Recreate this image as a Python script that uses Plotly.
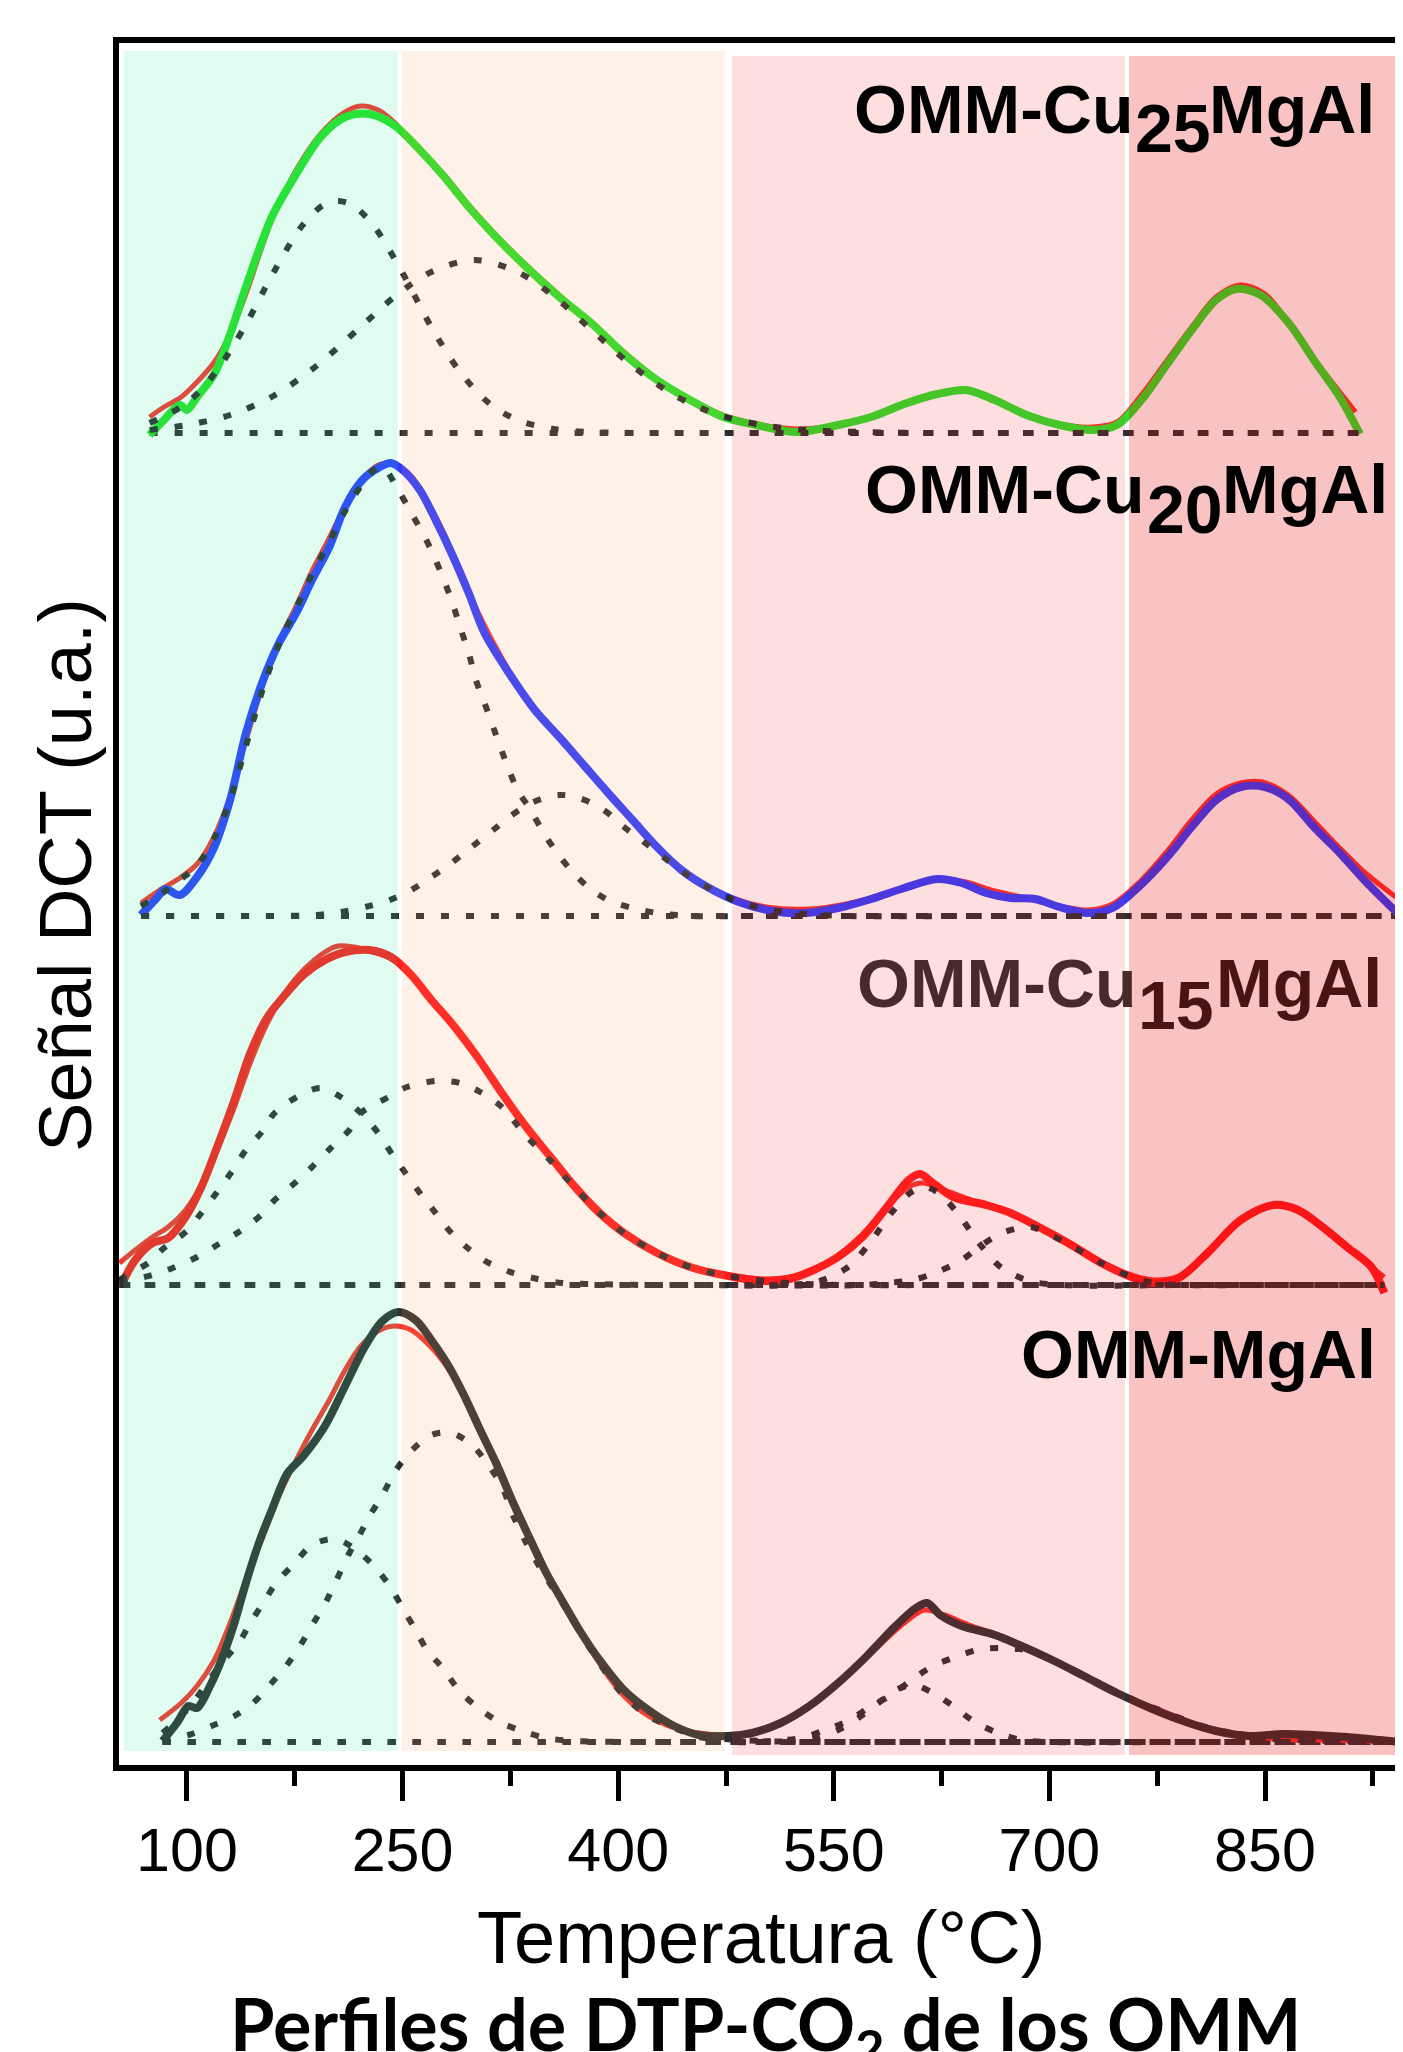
import plotly.graph_objects as go

# ---------------- data (temperature in °C, signal in a.u. above each profile baseline) -------------
# OMM-Cu25MgAl
T_CU25 = [74, 84, 95, 100, 107, 119, 130, 141, 159, 176, 193, 210, 227, 244, 262, 279, 296, 313, 336, 359, 382, 404, 427, 450, 473, 496, 524, 553, 576, 599, 622, 642, 662, 684, 707, 730, 747, 764, 782, 799, 816, 830, 847, 867, 884, 902, 916]
I_CU25 = [-2, 13, 28, 23, 36, 59, 99, 146, 216, 259, 296, 316, 319, 308, 283, 256, 226, 199, 166, 136, 109, 79, 53, 33, 16, 8, 1, 8, 16, 29, 39, 43, 33, 18, 8, 3, 8, 33, 69, 103, 133, 144, 138, 109, 73, 36, -1]
TF_CU25 = [74, 84, 96, 107, 119, 130, 141, 159, 176, 193, 210, 221, 233, 244, 261, 279, 296, 313, 336, 359, 382, 404, 427, 450, 473, 496, 524, 553, 576, 599, 622, 641, 662, 684, 707, 730, 747, 764, 782, 799, 816, 833, 850, 867, 884, 902, 913]
IF_CU25 = [16, 26, 36, 51, 71, 99, 139, 213, 263, 299, 321, 327, 323, 311, 284, 258, 228, 201, 168, 138, 109, 81, 54, 34, 18, 9, 4, 8, 16, 29, 39, 44, 34, 19, 9, 6, 11, 38, 73, 106, 136, 148, 139, 109, 74, 41, 21]
TC1_CU25 = [74, 100, 120, 140, 160, 180, 195, 205, 215, 230, 250, 270, 290, 310, 330, 355, 380, 420, 500, 600, 700, 800, 916]
IC1_CU25 = [10, 30, 61, 106, 160, 207, 228, 232, 228, 207, 160, 106, 61, 30, 13, 4, 1, 0, 0, 0, 0, 0, 0]
TC2_CU25 = [74, 100, 130, 160, 190, 220, 245, 270, 300, 330, 355, 380, 410, 440, 470, 500, 530, 570, 620, 700, 800, 916]
IC2_CU25 = [3, 8, 18, 37, 67, 105, 137, 161, 173, 161, 137, 105, 67, 37, 18, 8, 3, 1, 0, 0, 0, 0]

# OMM-Cu20MgAl
T_CU20 = [68, 79, 85, 95, 107, 119, 130, 141, 153, 164, 176, 187, 199, 210, 222, 233, 242, 250, 262, 273, 284, 296, 307, 324, 342, 359, 376, 393, 410, 427, 444, 462, 484, 507, 530, 553, 576, 599, 622, 639, 656, 673, 690, 707, 727, 744, 762, 782, 799, 816, 833, 850, 867, 884, 902, 919, 942]
I_CU20 = [1, 18, 27, 21, 39, 69, 116, 183, 236, 273, 303, 336, 369, 409, 436, 448, 453, 446, 426, 396, 363, 323, 283, 243, 206, 179, 151, 123, 96, 69, 46, 29, 14, 5, 3, 8, 17, 28, 37, 33, 23, 18, 17, 9, 3, 8, 29, 59, 89, 116, 129, 129, 116, 89, 63, 36, 3]
TF_CU20 = [68, 80, 95, 107, 119, 130, 141, 153, 164, 176, 187, 199, 210, 222, 233, 244, 256, 267, 279, 290, 302, 319, 336, 353, 370, 388, 405, 422, 439, 456, 473, 496, 519, 542, 565, 588, 611, 625, 642, 662, 684, 707, 727, 744, 762, 782, 799, 816, 833, 848, 867, 884, 902, 919, 941]
IF_CU20 = [13, 25, 38, 52, 80, 120, 175, 232, 275, 310, 345, 378, 410, 437, 451, 452, 440, 415, 382, 345, 305, 258, 218, 187, 160, 132, 104, 77, 53, 35, 22, 11, 7, 8, 14, 23, 33, 37, 34, 25, 18, 10, 6, 12, 33, 65, 96, 122, 133, 134, 120, 95, 68, 44, 19]
TC1_CU20 = [68, 80, 95, 107, 119, 130, 141, 153, 164, 176, 187, 199, 210, 222, 230, 236, 247, 256, 264, 273, 284, 290, 296, 301, 307, 313, 318, 324, 330, 339, 347, 356, 367, 379, 393, 410, 427, 450, 500, 600, 700, 800, 942]
IC1_CU20 = [10, 20, 36, 50, 78, 116, 170, 228, 272, 308, 342, 374, 405, 432, 446, 449, 426, 403, 383, 356, 316, 289, 263, 236, 213, 189, 169, 146, 126, 106, 86, 66, 46, 29, 16, 8, 3, 0, 0, 0, 0, 0, 0]
TC2_CU20 = [68, 150, 190, 207, 224, 241, 256, 270, 284, 298, 313, 324, 341, 359, 373, 390, 404, 416, 427, 444, 462, 484, 507, 530, 560, 650, 750, 850, 942]
IC2_CU20 = [0, 0, 1, 4, 9, 16, 26, 39, 53, 69, 86, 99, 114, 121, 118, 106, 89, 76, 64, 45, 29, 14, 6, 2, 0, 0, 0, 0, 0]

# OMM-Cu15MgAl
T_CU15 = [55, 64, 76, 87, 99, 110, 121, 133, 144, 156, 167, 181, 196, 210, 227, 242, 256, 270, 284, 302, 319, 336, 353, 370, 387, 404, 427, 450, 473, 502, 519, 536, 553, 570, 587, 602, 610, 619, 633, 656, 673, 690, 713, 736, 759, 773, 790, 810, 833, 856, 873, 890, 907, 924, 933]
I_CU15 = [2, 25, 42, 47, 68, 98, 138, 185, 232, 268, 288, 310, 325, 333, 335, 328, 310, 285, 262, 228, 192, 158, 128, 98, 72, 52, 32, 18, 10, 4, 6, 15, 28, 48, 78, 105, 111, 102, 88, 80, 72, 60, 42, 22, 7, 2, 7, 32, 65, 80, 75, 58, 38, 18, -8]
TF_CU15 = [53, 64, 76, 87, 99, 110, 121, 133, 144, 156, 167, 181, 196, 205, 216, 227, 242, 256, 270, 284, 302, 319, 336, 353, 370, 387, 404, 427, 450, 473, 502, 519, 536, 553, 570, 587, 602, 612, 625, 640, 656, 673, 690, 713, 736, 759, 773, 790, 810, 833, 856, 873, 890, 907, 924, 933]
IF_CU15 = [22, 35, 48, 58, 75, 100, 135, 178, 222, 262, 290, 315, 333, 339, 338, 334, 326, 310, 287, 262, 228, 193, 160, 128, 99, 74, 53, 33, 19, 11, 6, 8, 16, 30, 51, 78, 98, 102, 96, 88, 80, 72, 60, 42, 23, 9, 5, 9, 32, 63, 79, 74, 57, 37, 18, 8]
TC1_CU15 = [53, 61, 73, 84, 99, 110, 121, 131, 141, 152, 161, 179, 193, 207, 221, 233, 243, 253, 263, 273, 284, 297, 310, 327, 344, 361, 381, 420, 500, 600, 700, 800, 933]
IC1_CU15 = [5, 12, 22, 37, 53, 72, 93, 113, 135, 153, 172, 190, 197, 188, 172, 152, 130, 110, 90, 72, 52, 35, 22, 12, 6, 2, 1, 0, 0, 0, 0, 0, 0]
TC2_CU15 = [53, 61, 76, 90, 107, 121, 136, 150, 161, 175, 187, 200, 213, 221, 239, 253, 273, 290, 304, 319, 336, 353, 370, 387, 404, 427, 450, 473, 502, 530, 560, 650, 750, 850, 933]
IC2_CU15 = [3, 5, 10, 17, 28, 40, 53, 68, 85, 102, 118, 137, 155, 172, 187, 198, 204, 202, 193, 178, 149, 124, 97, 72, 52, 32, 18, 10, 4, 1, 0, 0, 0, 0, 0]
TC3_CU15 = [53, 450, 520, 540, 560, 575, 590, 603, 613, 623, 636, 651, 666, 686, 710, 800, 933]
IC3_CU15 = [0, 0, 0, 4, 18, 42, 72, 92, 98, 92, 72, 42, 18, 4, 0, 0, 0]
TC4_CU15 = [53, 450, 570, 587, 605, 622, 639, 653, 667, 684, 690, 713, 736, 759, 773, 790, 850, 933]
IC4_CU15 = [0, 0, 0, 2, 5, 13, 25, 40, 52, 58, 57, 41, 22, 7, 2, 0, 0, 0]

# OMM-MgAl
T_MGAL = [83, 93, 101, 107, 116, 124, 133, 141, 150, 159, 170, 181, 196, 210, 224, 236, 247, 259, 270, 282, 293, 304, 316, 327, 339, 350, 362, 373, 387, 404, 422, 439, 456, 476, 493, 513, 533, 553, 573, 593, 607, 615, 624, 639, 662, 679, 702, 724, 747, 770, 793, 816, 839, 862, 884, 907, 930, 944]
I_MGAL = [1, 19, 36, 34, 56, 82, 119, 159, 199, 232, 269, 286, 316, 356, 396, 421, 430, 422, 402, 376, 346, 312, 276, 239, 202, 169, 139, 112, 82, 52, 31, 16, 7, 6, 9, 19, 36, 59, 86, 116, 134, 139, 127, 116, 107, 97, 82, 66, 49, 34, 21, 11, 6, 8, 7, 5, 2, 0]
TF_MGAL = [81, 96, 107, 119, 130, 141, 153, 164, 176, 187, 199, 210, 221, 233, 244, 256, 267, 279, 290, 301, 313, 324, 336, 347, 359, 370, 381, 393, 404, 421, 439, 456, 473, 490, 507, 530, 553, 576, 599, 613, 627, 644, 667, 690, 713, 736, 759, 782, 804, 827, 850, 873, 896, 919, 944]
IF_MGAL = [22, 39, 56, 82, 119, 162, 206, 246, 282, 312, 342, 372, 396, 411, 416, 412, 399, 379, 352, 319, 282, 246, 209, 176, 146, 119, 92, 66, 46, 26, 14, 9, 7, 9, 16, 32, 59, 89, 119, 132, 127, 117, 106, 91, 74, 57, 42, 29, 17, 9, 4, 2, 2, 1, 0]
TC1_MGAL = [83, 93, 104, 114, 124, 136, 144, 153, 162, 175, 187, 203, 216, 230, 241, 250, 259, 267, 279, 289, 301, 316, 333, 350, 370, 420, 500, 600, 700, 800, 944]
IC1_MGAL = [9, 22, 39, 59, 79, 99, 119, 139, 159, 179, 197, 203, 194, 176, 156, 134, 112, 92, 72, 52, 36, 21, 11, 4, 1, 0, 0, 0, 0, 0, 0]
TC2_MGAL = [83, 101, 117, 133, 146, 157, 169, 179, 188, 197, 204, 213, 219, 227, 236, 245, 256, 270, 284, 299, 310, 319, 327, 336, 347, 359, 370, 381, 393, 404, 421, 439, 456, 473, 500, 530, 600, 700, 800, 944]
IC2_MGAL = [2, 7, 16, 26, 39, 56, 76, 97, 119, 141, 162, 189, 204, 226, 247, 271, 291, 307, 309, 296, 276, 256, 226, 199, 171, 144, 118, 92, 66, 46, 26, 14, 5, 3, 1, 0, 0, 0, 0, 0]
TC3_MGAL = [83, 450, 500, 519, 536, 553, 567, 581, 593, 605, 619, 633, 647, 664, 681, 701, 800, 944]
IC3_MGAL = [0, 0, 0, 1, 4, 12, 24, 39, 52, 57, 49, 36, 21, 9, 2, 0, 0, 0]
TC4_MGAL = [83, 450, 490, 507, 527, 544, 561, 576, 590, 604, 619, 633, 650, 667, 690, 713, 736, 759, 782, 804, 827, 850, 873, 896, 920, 944]
IC4_MGAL = [0, 0, 0, 1, 4, 12, 22, 36, 47, 62, 76, 84, 92, 94, 90, 74, 57, 42, 29, 17, 9, 4, 2, 1, 0, 0]

# Temperature zones (°C)
ZONES_T = [(56, 246.5), (249.6, 474.3), (479.2, 752.6), (755.4, 944)]

TICK_VALS = [100, 250, 400, 550, 700, 850]
TICK_TEXT = ["100", "250", "400", "550", "700", "850"]

# ---------------- styling / layout ----------------
OFFSET = {"cu25": 1332, "cu20": 849, "cu15": 480, "mgal": 23}
MEAS_COLOR = {"cu25": "rgb(40,225,40)", "cu20": "rgb(45,60,255)",
              "cu15": "rgb(255,28,28)", "mgal": "rgb(48,48,48)"}
FIT_COLOR = "rgb(250,50,45)"
DOT_COLOR = "rgb(45,45,48)"
ZONE_FILL = ["rgba(48,235,155,0.15)", "rgba(242,160,100,0.15)",
             "rgba(242,42,42,0.15)", "rgba(234,5,5,0.24)"]
ZONE_Y = [(14, 1714), (14, 1714), (10, 1709), (10, 1709)]

panels = [
    ("cu25", (T_CU25, I_CU25), (TF_CU25, IF_CU25),
     [(TC1_CU25, IC1_CU25), (TC2_CU25, IC2_CU25)]),
    ("cu20", (T_CU20, I_CU20), (TF_CU20, IF_CU20),
     [(TC1_CU20, IC1_CU20), (TC2_CU20, IC2_CU20)]),
    ("cu15", (T_CU15, I_CU15), (TF_CU15, IF_CU15),
     [(TC1_CU15, IC1_CU15), (TC2_CU15, IC2_CU15), (TC3_CU15, IC3_CU15), (TC4_CU15, IC4_CU15)]),
    ("mgal", (T_MGAL, I_MGAL), (TF_MGAL, IF_MGAL),
     [(TC1_MGAL, IC1_MGAL), (TC2_MGAL, IC2_MGAL), (TC3_MGAL, IC3_MGAL), (TC4_MGAL, IC4_MGAL)]),
]

fig = go.Figure()
DOT = "8px,17px"
for key, meas, fit, comps in panels:
    off = OFFSET[key]
    t0, t1 = meas[0][0], meas[0][-1]
    # baseline
    fig.add_trace(go.Scatter(x=[t0, t1], y=[off, off], mode="lines",
                             line=dict(color=DOT_COLOR, width=6, dash=DOT), hoverinfo="skip"))
    # fit
    fig.add_trace(go.Scatter(x=fit[0], y=[v + off for v in fit[1]], mode="lines",
                             line=dict(color=FIT_COLOR, width=5, shape="spline", smoothing=0.9)))
    # measured
    fig.add_trace(go.Scatter(x=meas[0], y=[v + off for v in meas[1]], mode="lines",
                             line=dict(color=MEAS_COLOR[key], width=8, shape="spline", smoothing=0.9)))
    # deconvolution components
    for tc, ic in comps:
        fig.add_trace(go.Scatter(x=tc, y=[v + off for v in ic], mode="lines",
                                 line=dict(color=DOT_COLOR, width=6, dash=DOT,
                                           shape="spline", smoothing=0.9)))

for (x0, x1), fill, (y0, y1) in zip(ZONES_T, ZONE_FILL, ZONE_Y):
    fig.add_shape(type="rect", xref="x", yref="y", x0=x0, x1=x1, y0=y0, y1=y1,
                  fillcolor=fill, line=dict(width=0), layer="above")

# the page body keeps the browser's default 8px margin: the figure starts at (8, 8)
PAGE_OFF = 8
W, H = 1403 - PAGE_OFF, 2052 - PAGE_OFF
ML, MT, MB = 119 - PAGE_OFF, 43 - PAGE_OFF, 287
PW, PH = W - ML, H - MT - MB


def px_x(px):
    return (px - PAGE_OFF - ML) / PW


def px_y(py):
    return (H - MB - (py - PAGE_OFF)) / PH


LBL_FONT = "Liberation Sans, Arial, sans-serif"
labels = [
    ("OMM-Cu", 852, 109, "black"), ("25", 1133, 128.5, "black"), ("MgAl", 1207, 109, "black"),
    ("OMM-Cu", 863, 489, "black"), ("20", 1144.5, 509, "black"), ("MgAl", 1219.6, 489, "black"),
    ("OMM-Cu", 855, 982.5, "#482a2a"), ("15", 1136, 1004.5, "#4a1414"), ("MgAl", 1214, 982.5, "#4a1414"),
    ("OMM-MgAl", 1019, 1353.7, "black"),
]
for txt, xl, yc, col in labels:
    fig.add_annotation(text=txt, xref="paper", yref="paper", x=px_x(xl), y=px_y(yc),
                       xanchor="left", yanchor="middle", showarrow=False,
                       font=dict(family=LBL_FONT, size=68, color=col, weight="bold"))

fig.add_annotation(text="Temperatura (°C)", xref="paper", yref="paper",
                   x=px_x(760.6), y=px_y(1937.7), xanchor="center", yanchor="middle",
                   showarrow=False, font=dict(family=LBL_FONT, size=74, color="black"))
fig.add_annotation(text="Señal DCT (u.a.)", xref="paper", yref="paper", textangle=-90,
                   x=px_x(65.4), y=px_y(874.5), xanchor="center", yanchor="middle",
                   showarrow=False, font=dict(family=LBL_FONT, size=74, color="black"))
fig.add_annotation(text="Perfiles de DTP-CO<sub>2</sub> de los OMM", xref="paper", yref="paper",
                   x=px_x(765), y=px_y(1978), xanchor="center", yanchor="top",
                   showarrow=False, font=dict(family="Lato, sans-serif", size=72, color="black",
                                              weight="bold"))

fig.update_layout(
    width=W, height=H, margin=dict(l=ML, r=0, t=MT, b=MB, pad=0),
    paper_bgcolor="white", plot_bgcolor="white", showlegend=False,
    xaxis=dict(range=[52.7, 946.0], tickmode="array", tickvals=TICK_VALS, ticktext=TICK_TEXT,
               ticks="outside", ticklen=30, tickwidth=5, tickcolor="black",
               showline=True, linewidth=6, linecolor="black", mirror=True,
               showgrid=False, zeroline=False, automargin=False, ticklabelstandoff=-3,
               tickfont=dict(family=LBL_FONT, size=61, color="black"),
               minor=dict(ticks="outside", ticklen=15, tickwidth=5, tickcolor="black",
                          tick0=100, dtick=75, showgrid=False)),
    yaxis=dict(range=[0, PH], showline=True, linewidth=6, linecolor="black",
               ticks="", showticklabels=False, showgrid=False, zeroline=False, automargin=False),
)

fig.write_html("out.html", config={"displayModeBar": False})
